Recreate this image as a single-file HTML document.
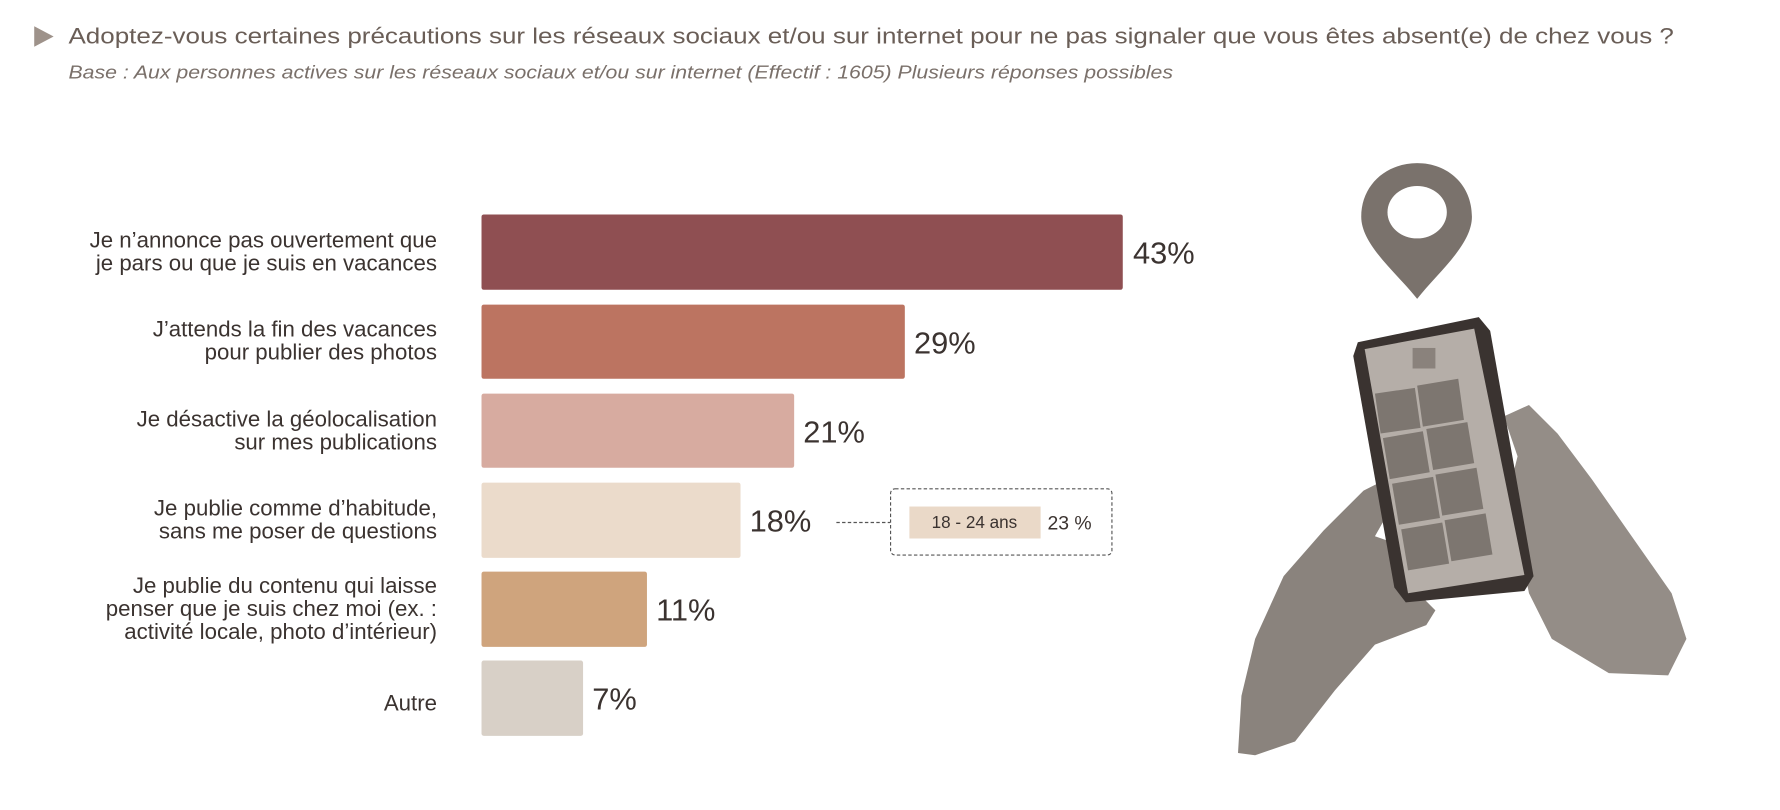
<!DOCTYPE html>
<html><head><meta charset="utf-8"><style>
html,body{margin:0;padding:0;background:#fff;}
svg{display:block;}
text{font-family:"Liberation Sans",sans-serif;}
</style></head><body>
<svg width="1780" height="810" viewBox="0 0 1560 710" preserveAspectRatio="none" xmlns="http://www.w3.org/2000/svg">
<rect width="1560" height="710" fill="#fff"/>
<polygon points="30,23 47,32 30,41" fill="#9e928a"/>
<text x="60" y="38" font-size="19.5" fill="#6a5e57" textLength="1407" lengthAdjust="spacingAndGlyphs">Adoptez-vous certaines précautions sur les réseaux sociaux et/ou sur internet pour ne pas signaler que vous êtes absent(e) de chez vous ?</text>
<text x="60" y="69" font-size="16" font-style="italic" fill="#7a706a" textLength="968" lengthAdjust="spacingAndGlyphs">Base : Aux personnes actives sur les réseaux sociaux et/ou sur internet (Effectif : 1605) Plusieurs réponses possibles</text>

<g>
<rect x="422" y="188" width="562" height="66" rx="2" fill="#8f4f52"/>
<rect x="422" y="267" width="371" height="65" rx="2" fill="#bc7461"/>
<rect x="422" y="345" width="274" height="65" rx="2" fill="#d7aba0"/>
<rect x="422" y="423" width="227" height="66" rx="2" fill="#ebdbcb"/>
<rect x="422" y="501" width="145" height="66" rx="2" fill="#cfa47d"/>
<rect x="422" y="579" width="89" height="66" rx="2" fill="#d8d0c7"/>
</g>
<g font-size="27" fill="#3b3330">
<text x="993" y="231">43%</text>
<text x="801" y="310">29%</text>
<text x="704" y="388">21%</text>
<text x="657" y="466">18%</text>
<text x="575" y="544">11%</text>
<text x="519" y="622">7%</text>
</g>
<g font-size="19.5" fill="#3b3330" text-anchor="end">
<text x="383" y="217">Je n’annonce pas ouvertement que</text>
<text x="383" y="237">je pars ou que je suis en vacances</text>
<text x="383" y="295">J’attends la fin des vacances</text>
<text x="383" y="315">pour publier des photos</text>
<text x="383" y="374">Je désactive la géolocalisation</text>
<text x="383" y="394">sur mes publications</text>
<text x="383" y="452">Je publie comme d’habitude,</text>
<text x="383" y="472">sans me poser de questions</text>
<text x="383" y="520">Je publie du contenu qui laisse</text>
<text x="383" y="540">penser que je suis chez moi (ex. :</text>
<text x="383" y="560">activité locale, photo d’intérieur)</text>
<text x="383" y="623">Autre</text>
</g>
<line x1="733" y1="458" x2="780" y2="458" stroke="#555" stroke-width="1" stroke-dasharray="3,2"/>
<rect x="780.5" y="428.5" width="194" height="58" rx="4" fill="none" stroke="#555" stroke-width="1" stroke-dasharray="3,2"/>
<rect x="797" y="444" width="115" height="28" fill="#ead9c8"/>
<text x="854" y="463" font-size="15" fill="#3b3330" text-anchor="middle">18 - 24 ans</text>
<text x="918" y="464" font-size="17" fill="#3b3330">23 %</text>

<path d="M1242,262 C1225,240 1193,215 1193,190 C1193,162 1215,143 1242,143 C1269,143 1290,162 1290,190 C1290,215 1259,240 1242,262 Z" fill="#7a726c"/>
<ellipse cx="1242" cy="186" rx="26" ry="23" fill="#fff"/>
<polygon points="1085,660 1088,610 1100,560 1125,505 1160,465 1195,430 1215,420 1222,440 1205,470 1228,478 1234,505 1245,522 1258,535 1250,548 1205,565 1170,605 1135,650 1100,662" fill="#8a837d"/>
<polygon points="1318,365 1340,355 1365,380 1395,420 1430,470 1465,520 1478,560 1462,592 1410,590 1360,560 1340,520 1330,470 1300,455 1282,445 1300,425 1325,420 1330,400" fill="#948d87"/>
<polygon points="1190,300 1296,278 1306,290 1344,505 1336,518 1232,528 1222,515 1186,312" fill="#3a3330"/>
<polygon points="1196,306 1292,288 1336,504 1234,520" fill="#b5aea8"/>
<g fill="#7d7670">
<polygon points="1205,345 1240,340 1245,375 1210,380"/>
<polygon points="1242,338 1278,332 1283,368 1247,374"/>
<polygon points="1212,384 1247,378 1253,414 1218,420"/>
<polygon points="1250,376 1286,370 1292,406 1256,412"/>
<polygon points="1220,424 1256,418 1262,454 1226,460"/>
<polygon points="1258,416 1294,410 1300,446 1264,452"/>
<polygon points="1228,464 1264,458 1270,494 1234,500"/>
<polygon points="1266,456 1302,450 1308,486 1272,492"/>
</g>
<rect x="1238" y="305" width="20" height="18" fill="#8a827c"/>
</svg>
</body></html>
